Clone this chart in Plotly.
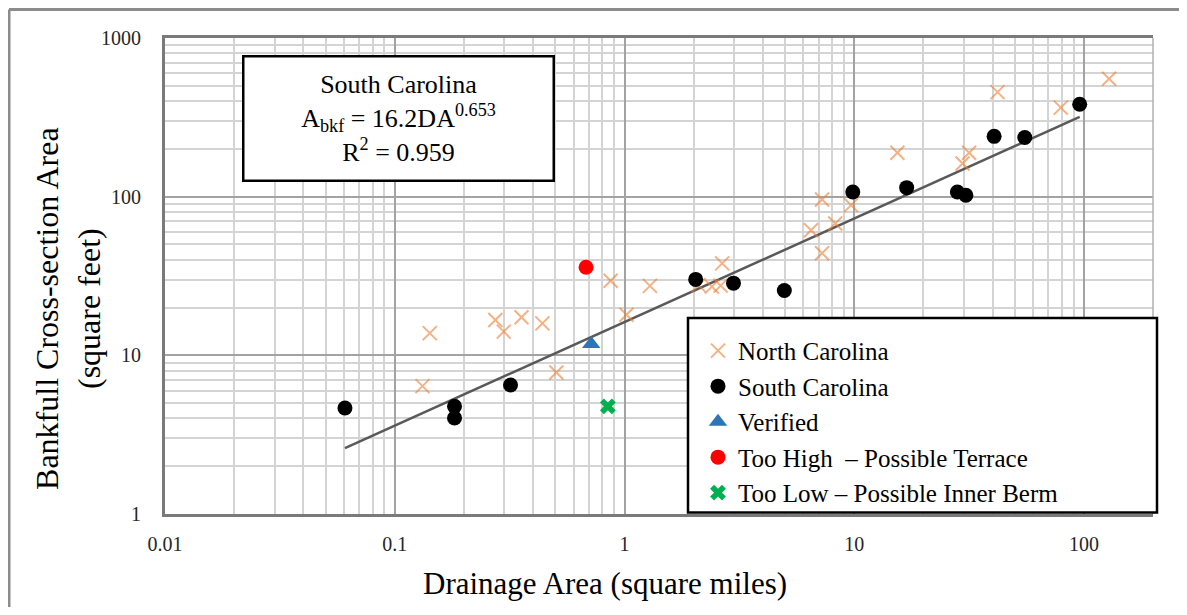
import numpy as np
import plotly.graph_objects as go

# ---------------- data ----------------
nc_da = [0.132, 0.142, 0.274, 0.298, 0.356, 0.439, 0.505, 0.87, 1.02, 1.29,
         2.10, 2.40, 2.62, 2.66, 6.48, 7.24, 7.24, 8.26, 9.68, 15.4,
         29.6, 31.6, 42.0, 79.2, 128.5]
nc_area = [6.4, 13.8, 16.7, 14.1, 17.4, 15.9, 7.8, 29.5, 18.0, 27.4,
           27.7, 27.1, 27.5, 38.0, 61.5, 96.0, 44.0, 67.8, 88.4, 189,
           162, 189, 456, 364, 553]

sc_da = [0.0607, 0.182, 0.182, 0.319, 2.04, 2.98, 4.96, 9.85, 16.9,
         28.1, 30.6, 40.6, 55.2, 95.7]
sc_area = [4.66, 4.77, 4.03, 6.5, 30.1, 28.5, 25.6, 107, 114,
           107, 102, 240, 236, 382]

verified_da = [0.716]
verified_area = [11.8]
high_da = [0.68]
high_area = [35.9]
low_da = [0.846]
low_area = [4.77]

fit_coef = 16.2
fit_exp = 0.653

x_ticks = [0.01, 0.1, 1, 10, 100]
x_tick_labels = ["0.01", "0.1", "1", "10", "100"]
y_ticks = [1, 10, 100, 1000]
y_tick_labels = ["1", "10", "100", "1000"]

# ---------------- layout geometry ----------------
OFF = 8  # default page body margin
W, H = 1187 - OFF, 615 - 2 * OFF
L, R, T, B = 165 - OFF, 1153 - OFF, 37.5 - OFF, 514.5 - OFF


def px(x):
    return (x - OFF - L) / (R - L)


def py(y):
    return (B - (y - OFF)) / (B - T)


FONT = "Liberation Serif"

fig = go.Figure()

fit_x = np.logspace(np.log10(min(sc_da)), np.log10(max(sc_da)), 60)
fit_y = fit_coef * fit_x ** fit_exp
fig.add_trace(go.Scatter(x=fit_x, y=fit_y, mode="lines", showlegend=False,
                         line=dict(color="#595959", width=2.5), hoverinfo="skip"))

fig.add_trace(go.Scatter(x=nc_da, y=nc_area, mode="markers", name="North Carolina",
                         legendgroup="a",
                         marker=dict(symbol="x-thin", size=14, color="rgba(237,125,49,0.6)",
                                     line=dict(color="rgba(237,125,49,0.6)", width=2))))
fig.add_trace(go.Scatter(x=sc_da, y=sc_area, mode="markers", name="South Carolina",
                         legendgroup="b",
                         marker=dict(symbol="circle", size=15, color="black")))
fig.add_trace(go.Scatter(x=verified_da, y=verified_area, mode="markers", name="Verified",
                         legendgroup="c",
                         marker=dict(symbol="triangle-up", size=16, color="#2E75B6")))
fig.add_trace(go.Scatter(x=high_da, y=high_area, mode="markers",
                         name="Too High  – Possible Terrace", legendgroup="d",
                         marker=dict(symbol="circle", size=15, color="#FF0000")))
fig.add_trace(go.Scatter(x=low_da, y=low_area, mode="markers",
                         name="Too Low – Possible Inner Berm", legendgroup="e",
                         marker=dict(symbol="x", size=14, color="#00B050")))

shapes = [
    # outer chart border (top & left)
    dict(type="line", xref="paper", yref="paper", x0=px(9), x1=px(1220), y0=py(9), y1=py(9),
         line=dict(color="#8c8c8c", width=3)),
    dict(type="line", xref="paper", yref="paper", x0=px(9), x1=px(9), y0=py(9), y1=py(660),
         line=dict(color="#8c8c8c", width=3)),
    # right plot edge
    dict(type="line", xref="paper", yref="paper", x0=1, x1=1, y0=0, y1=1,
         line=dict(color="#b0b0b0", width=1.5)),
    # legend box
    dict(type="rect", xref="paper", yref="paper", x0=px(688), x1=px(1157), y0=py(513), y1=py(318),
         line=dict(color="black", width=2.5), fillcolor="white", layer="above"),
]

annotations = [
    dict(xref="paper", yref="paper", x=px(398), y=py(118), xanchor="center", yanchor="middle",
         text="South Carolina<br>A<sub>bkf</sub> = 16.2DA<sup>0.653</sup><br>R<sup>2</sup> = 0.959",
         showarrow=False, align="center", font=dict(family=FONT, size=26, color="black"),
         bordercolor="black", borderwidth=2.5, borderpad=0, bgcolor="white",
         width=308, height=122),
    dict(xref="paper", yref="paper", x=px(605), y=py(584), xanchor="center", yanchor="middle",
         text="Drainage Area (square miles)", showarrow=False,
         font=dict(family=FONT, size=31, color="black")),
    dict(xref="paper", yref="paper", x=px(68), y=py(309), xanchor="center", yanchor="middle",
         text="Bankfull Cross-section Area<br>(square feet)", showarrow=False, textangle=-90,
         font=dict(family=FONT, size=32, color="black")),
]

fig.update_layout(
    width=W, height=H,
    margin=dict(l=L, r=W - R, t=T, b=H - B),
    paper_bgcolor="white", plot_bgcolor="white",
    font=dict(family=FONT, color="black"),
    shapes=shapes, annotations=annotations,
    showlegend=True,
    legend=dict(x=px(698), y=py(328), xanchor="left", yanchor="top",
                bgcolor="rgba(0,0,0,0)", borderwidth=0,
                font=dict(family=FONT, size=25, color="black"),
                tracegroupgap=0, itemsizing="trace"),
)

fig.update_xaxes(type="log", range=[-2, 2.3],
                 tickvals=x_ticks, ticktext=x_tick_labels,
                 tickfont=dict(family=FONT, size=20, color="#262626"),
                 ticklabelstandoff=10,
                 showgrid=True, gridcolor="#a3a3a3", gridwidth=1.5,
                 minor=dict(dtick="D1", showgrid=True, gridcolor="#d4d4d4", gridwidth=1.8),
                 showline=True, linecolor="#7a7a7a", linewidth=3, mirror=True,
                 zeroline=False, ticks="")
fig.update_yaxes(type="log", range=[0, 3],
                 tickvals=y_ticks, ticktext=y_tick_labels,
                 tickfont=dict(family=FONT, size=20, color="#262626"),
                 ticklabelstandoff=17,
                 showgrid=True, gridcolor="#a3a3a3", gridwidth=1.5,
                 minor=dict(dtick="D1", showgrid=True, gridcolor="#d4d4d4", gridwidth=1.8),
                 showline=True, linecolor="#7a7a7a", linewidth=3,
                 zeroline=False, ticks="")

fig.write_html("out.html")
